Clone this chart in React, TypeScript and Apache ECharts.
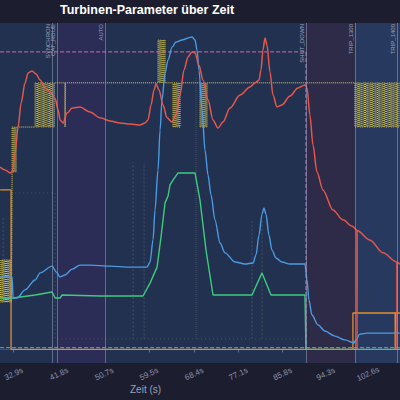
import { useEffect, useRef } from 'react';
import * as echarts from 'echarts';

// x in seconds, y in arbitrary units (0 = baseline)
const tickValues = [32.9, 41.8, 50.7, 59.5, 68.4, 77.1, 85.8, 94.3, 102.6];

const redData: number[][] = [
  [30.22, 53.6], [31.2, 52.8], [32.19, 51.9], [32.58, 52.2], [33.17, 57.8], [33.76, 65.4],
  [34.35, 72.5], [35.14, 78.4], [35.73, 81.3], [36.51, 81.9], [37.3, 81.0], [38.09, 79.2],
  [39.07, 76.9], [40.05, 75.7], [41.04, 73.9], [41.63, 70.4], [42.02, 67.5], [42.61, 66.6],
  [43.4, 69.5], [44.38, 71.0], [45.95, 71.3], [47.92, 69.8], [49.89, 68.1], [51.85, 67.2],
  [53.82, 66.6], [55.79, 66.3], [57.75, 66.0], [58.74, 66.6], [59.33, 67.5], [59.92, 71.9],
  [60.51, 76.3], [60.9, 78.1], [61.49, 76.3], [62.28, 71.9], [63.06, 68.1], [64.05, 66.9],
  [64.83, 69.0], [65.62, 74.8], [66.41, 82.2], [67.19, 86.0], [67.98, 87.5], [68.57, 87.2],
  [69.35, 83.6], [70.14, 79.2], [71.13, 73.4], [72.11, 67.5], [73.09, 65.1], [74.08, 66.9],
  [75.45, 71.0], [77.42, 74.8], [79.39, 77.2], [80.57, 78.6], [81.16, 79.2], [81.55, 82.2],
  [81.94, 88.1], [82.34, 91.6], [82.73, 89.5], [83.32, 81.6], [83.91, 74.8], [84.7, 71.3],
  [85.68, 71.9], [87.25, 74.5], [88.82, 76.9], [90.2, 77.8], [90.6, 76.9], [91.18, 68.9],
  [91.78, 60.1], [92.56, 52.2], [93.74, 46.9], [95.71, 41.0], [97.67, 38.1], [99.44, 36.3],
  [100.43, 35.1], [100.44, 0], [100.46, 35.0], [102.98, 32.2], [105.54, 28.4], [108.29, 25.7],
  [108.3, 0], [108.32, 25.6], [108.88, 25.1],
];

const blueData: number[][] = [
  [30.22, 21.3], [32.58, 21.3], [32.78, 15.1], [33.56, 15.1], [35.14, 17.5], [37.1, 20.4],
  [38.09, 22.5], [40.45, 24.5], [41.24, 22.8], [42.02, 21.3], [43.0, 21.9], [44.38, 23.6],
  [45.95, 24.8], [47.92, 24.8], [51.85, 24.5], [55.79, 24.2], [59.13, 24.2], [59.72, 25.7],
  [60.31, 32.2], [60.7, 41.0], [61.29, 52.8], [61.69, 64.5], [62.08, 73.4], [62.67, 81.3],
  [63.26, 85.1], [64.05, 88.9], [64.83, 90.4], [66.01, 91.0], [67.98, 91.9], [68.57, 91.0],
  [68.96, 88.1], [69.35, 82.2], [69.95, 70.4], [70.54, 58.6], [71.13, 51.3], [71.72, 45.4],
  [72.5, 38.1], [73.49, 31.3], [74.47, 28.4], [76.44, 25.7], [78.4, 25.1], [79.98, 25.4],
  [80.57, 27.8], [81.16, 33.6], [81.75, 39.8], [82.14, 41.6], [82.53, 39.8], [83.12, 33.6],
  [83.71, 29.2], [84.5, 26.9], [85.68, 25.7], [87.25, 25.1], [90.2, 25.1], [90.6, 20.4],
  [90.99, 14.5], [91.58, 10.1], [92.76, 7.2], [94.13, 5.4], [96.1, 3.9], [98.07, 2.8],
  [99.84, 1.9], [100.23, 2.8], [101.02, 4.5], [102.39, 4.8], [107.9, 4.8], [108.88, 4.8],
];

const greenData: number[][] = [
  [30.22, 15.1], [32.78, 15.1], [37.1, 16.0], [40.45, 16.9], [41.04, 15.1], [42.02, 15.1],
  [42.41, 16.0], [49.89, 15.7], [58.34, 15.7], [59.72, 19.5], [61.1, 24.2], [61.88, 33.1],
  [62.67, 43.1], [63.26, 45.1], [63.65, 48.4], [64.24, 49.8], [65.23, 51.9], [68.57, 51.9],
  [69.55, 43.9], [70.73, 29.2], [72.11, 16.0], [79.78, 16.0], [81.75, 22.5], [83.52, 16.0],
  [90.2, 16.0], [90.4, 0], [108.88, 0],
];

const orangeData: number[][] = [
  [30.22, 46.9], [32.38, 46.9], [32.38, 0], [99.64, 0], [99.64, 10.7], [107.95, 10.7],
  [107.95, 0], [107.99, 10.7], [108.88, 10.7],
];

const pinkData: number[][] = [[30.22, 87.5], [90.4, 87.5], [90.4, 0], [108.88, 0]];
const cyanData: number[][] = [[30.22, 0.5], [108.88, 0.5]];

const faintData: number[][] = [
  [30.22, 14.5], [30.81, 14.5], [30.81, 38.9], [30.84, 14.5], [32.58, 14.5], [32.58, 46.0],
  [41.04, 46.0], [41.04, 3.1], [56.38, 3.1], [56.38, 55.0], [56.41, 3.1], [58.54, 3.1],
  [58.54, 55.0], [58.57, 3.1], [68.77, 3.1], [68.77, 80.0], [68.8, 3.1], [79.78, 3.1],
  [79.78, 38.1], [79.81, 3.1], [81.75, 3.1], [81.75, 38.1], [81.78, 3.1], [90.4, 3.1],
];

// yellow valve signal: levels and toggle times of its chattering phases
const yA = 78.4, yB = 65.4, yC = 91.0, yD = 52.2, yE = 26.3, yF = 13.9;
const yBlock1 = [30.32, 30.52, 30.71, 30.91, 31.11, 31.3, 31.5, 31.7, 31.89, 32.09, 32.29, 32.48];
const yBlock2 = [32.58, 32.78, 32.97, 33.17, 33.37];
const yBlock3 = [37.1, 37.33, 37.57, 37.8, 38.04, 38.27, 38.51, 38.75, 38.98, 39.22, 39.45, 39.69, 39.93, 40.16, 40.4, 40.63, 40.87];
const yBlock3b = [43.0, 43.04];
const yBlock4 = [61.29, 61.49, 61.69, 61.88, 62.08, 62.28, 62.47, 62.67];
const yBlock5 = [64.24, 64.44, 64.64, 64.83, 65.03, 65.23, 65.42, 65.62];
const yBlock6 = [69.55, 69.75, 69.95, 70.14, 70.34, 70.54, 70.73, 70.93];
const yBlock7 = [100.03, 100.25, 100.5, 100.72, 100.95, 101.2, 101.4, 101.65, 101.9, 102.1, 102.35, 102.55, 102.8, 103.05, 103.25, 103.5, 103.75, 104.0, 104.2, 104.45, 104.7, 104.9, 105.15, 105.4, 105.6, 105.85, 106.1, 106.3, 106.55, 106.8, 107.0, 107.25, 107.5, 107.7, 107.95, 108.2, 108.45, 108.7];

const events = [
  { t: 40.45, name: 'SYNCHRON' },
  { t: 41.43, name: 'CAT_RDUE' },
  { t: 50.87, name: 'AUTO' },
  { t: 90.4, name: 'SHUT_DOWN' },
  { t: 100.03, name: 'TRIP_1300' },
  { t: 108.29, name: 'TRIP_1400' },
];

const phases = [
  { from: 41.43, to: 50.87, color: '#2c2d57' },
  { from: 90.4, to: 100.03, color: '#2d2b47' },
  { from: 100.03, to: 108.9, color: '#28395f' },
];

function square(times: number[], a: number, b: number): number[][] {
  const out: number[][] = [];
  let cur = a;
  times.forEach((t) => {
    const next = cur === a ? b : a;
    out.push([t, cur], [t, next]);
    cur = next;
  });
  return out;
}

function buildYellow(): number[][] {
  return [
    [30.22, yE],
    ...square(yBlock1, yE, yF),
    ...square(yBlock2, yD, yB),
    ...square(yBlock3, yB, yA),
    ...square(yBlock3b, yA, yB),
    ...square(yBlock4, yA, yC),
    ...square(yBlock5, yA, yB),
    ...square(yBlock6, yA, yB),
    ...square(yBlock7, yA, yB),
    [108.88, yA],
  ];
}

function lineSeries(name: string, data: number[][], color: string, width: number, type: any = 'solid', extra: any = {}) {
  return {
    name, type: 'line', data, showSymbol: false, symbol: 'none', silent: true,
    lineStyle: { color, width, type },
    z: 3,
    ...extra,
  };
}

export default function App() {
  const ref = useRef<HTMLDivElement>(null);
  useEffect(() => {
    const chart = echarts.init(ref.current!, null, { renderer: 'svg' });
    const option: any = {
      animation: false,
      backgroundColor: '#1c1e30',
      textStyle: { fontFamily: 'Liberation Sans, Arial, sans-serif' },
      title: {
        text: 'Turbinen-Parameter über Zeit',
        left: 60, top: 3, padding: 0,
        textStyle: { color: '#ffffff', fontSize: 12.5, fontWeight: 'bold', fontFamily: 'Liberation Sans, Arial, sans-serif' },
      },
      grid: {
        left: 0, right: 0, top: 23, bottom: 37,
        show: true, backgroundColor: '#233150', borderWidth: 0,
      },
      xAxis: {
        type: 'value', min: 30.2, max: 108.9,
        splitLine: { show: false },
        axisLine: { show: true, lineStyle: { color: '#4a5068' } },
        axisTick: { show: true, customValues: tickValues, length: 3, lineStyle: { color: '#6a7088' } },
        axisLabel: {
          customValues: tickValues,
          formatter: (v: number) => v.toFixed(1) + 's',
          rotate: 25, align: 'center', verticalAlign: 'middle', margin: 11,
          color: '#8c91a8', fontSize: 8,
        },
      },
      yAxis: { type: 'value', min: -4, max: 96, show: false, splitLine: { show: false } },
      graphic: [
        {
          type: 'text', left: 130, top: 384,
          style: { text: 'Zeit (s)', fill: '#9aa0b5', fontSize: 10, fontFamily: 'Liberation Sans, Arial, sans-serif' },
        },
      ],
      series: [
        {
          type: 'line', data: [], silent: true, z: 1,
          markArea: {
            silent: true,
            data: phases.map((p) => [
              { xAxis: p.from, itemStyle: { color: p.color } },
              { xAxis: p.to },
            ]),
          },
          markLine: {
            silent: true, symbol: 'none',
            lineStyle: { color: 'rgba(150,158,195,0.55)', width: 1, type: 'solid' },
            label: {
              show: true, position: 'insideEndTop', formatter: '{b}',
              color: '#9aa0b8', fontSize: 6, distance: 1,
            },
            data: events.map((e) => ({ xAxis: e.t, name: e.name })),
          },
        },
        lineSeries('faint', faintData, 'rgba(200,205,175,0.22)', 1, [1, 3]),
        lineSeries('Ventil', buildYellow(), '#e3d24a', 1, 'dotted'),
        lineSeries('Sollwert', pinkData, '#d36aa9', 1, 'dashed'),
        lineSeries('Basis', cyanData, '#5aa7e0', 1, 'dashed'),
        lineSeries('Last', orangeData, '#e0912c', 1.3),
        lineSeries('Druck', greenData, '#3ccb7e', 1.4),
        lineSeries('Drehzahl', blueData, '#4a9be2', 1.4, 'solid', { smooth: 0.3, smoothMonotone: 'x' }),
        lineSeries('Temperatur', redData, '#e6574a', 1.5, 'solid', { smooth: 0.3, smoothMonotone: 'x' }),
      ],
    };
    chart.setOption(option);
    return () => chart.dispose();
  }, []);
  return <div ref={ref} style={{ position: 'absolute', left: 0, top: 0, width: 400, height: 400 }} />;
}
